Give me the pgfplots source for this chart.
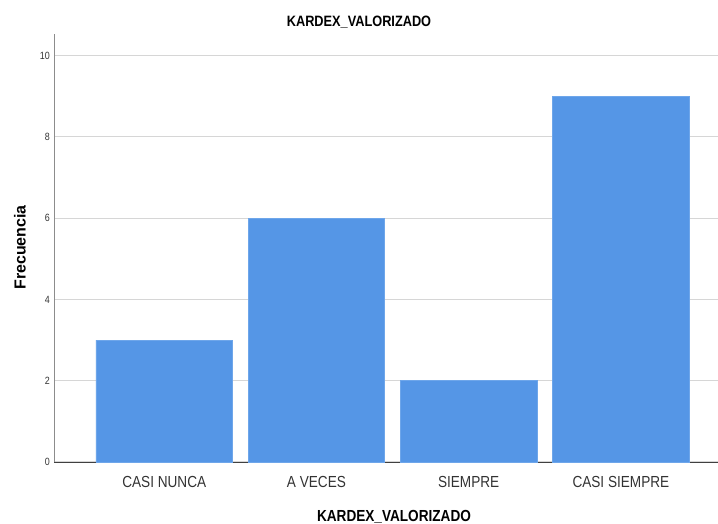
\documentclass[border=0pt]{standalone}
\usepackage{fontspec}
\setmainfont{Liberation Sans}
\newfontfamily\catfont[FakeStretch=0.85]{Liberation Sans}
\newfontfamily\tickfont[FakeStretch=0.85]{Liberation Sans}
\usepackage{pgfplots}
\pgfplotsset{compat=1.18}
\usetikzlibrary{calc}
\definecolor{barblue}{HTML}{5596E6}
\definecolor{gridgray}{HTML}{D6D6D6}
\begin{document}
\begin{tikzpicture}
\begin{axis}[
  name=ax,
  scale only axis,
  width=663.5pt, height=428pt,
  xmin=-0.721, xmax=3.638,
  ymin=0, ymax=10.53,
  axis x line*=bottom, axis y line*=left,
  x axis line style={draw=black!75, line width=1pt, -},
  y axis line style={draw=black!45, line width=1pt, -},
  xtick={0,1,2,3},
  xticklabels={CASI NUNCA, A VECES, SIEMPRE, CASI SIEMPRE},
  ytick={0,2,4,6,8,10},
  major tick length=0pt,
  ymajorgrids,
  grid style={draw=gridgray, line width=1.2pt},
  /pgf/number format/assume math mode=true,
  xticklabel style={font=\catfont\fontsize{16}{18}\selectfont, text=black!80, anchor=base, inner sep=0pt, yshift=-25pt},
  yticklabel style={font=\tickfont\fontsize{10.5}{12}\selectfont, text=black!80, anchor=east, inner sep=0pt, xshift=-4.5pt},
  ybar, bar width=136.5pt,
]
\addplot[fill=barblue, draw=barblue!85!white, line width=0.5pt] coordinates {(0,3) (1,6) (2,2) (3,9)};
\end{axis}
\node[anchor=base, font=\catfont\bfseries\fontsize{15}{17}\selectfont, inner sep=0pt] at ($(ax.south west)+(304.5pt,435pt)$) {KARDEX\_VALORIZADO};
\node[anchor=base, font=\catfont\bfseries\fontsize{16}{18}\selectfont, inner sep=0pt] at ($(ax.south west)+(339.5pt,-59pt)$) {KARDEX\_VALORIZADO};
\node[rotate=90, anchor=center, font=\bfseries\fontsize{16}{18}\selectfont, inner sep=0pt] at ($(ax.south west)+(-34.5pt,214.5pt)$) {Frecuencia};
\pgfresetboundingbox
\path[use as bounding box] ($(ax.south west)+(-54.5pt,-61pt)$) rectangle ($(ax.south west)+(663.5pt,462pt)$);
\end{tikzpicture}
\end{document}
